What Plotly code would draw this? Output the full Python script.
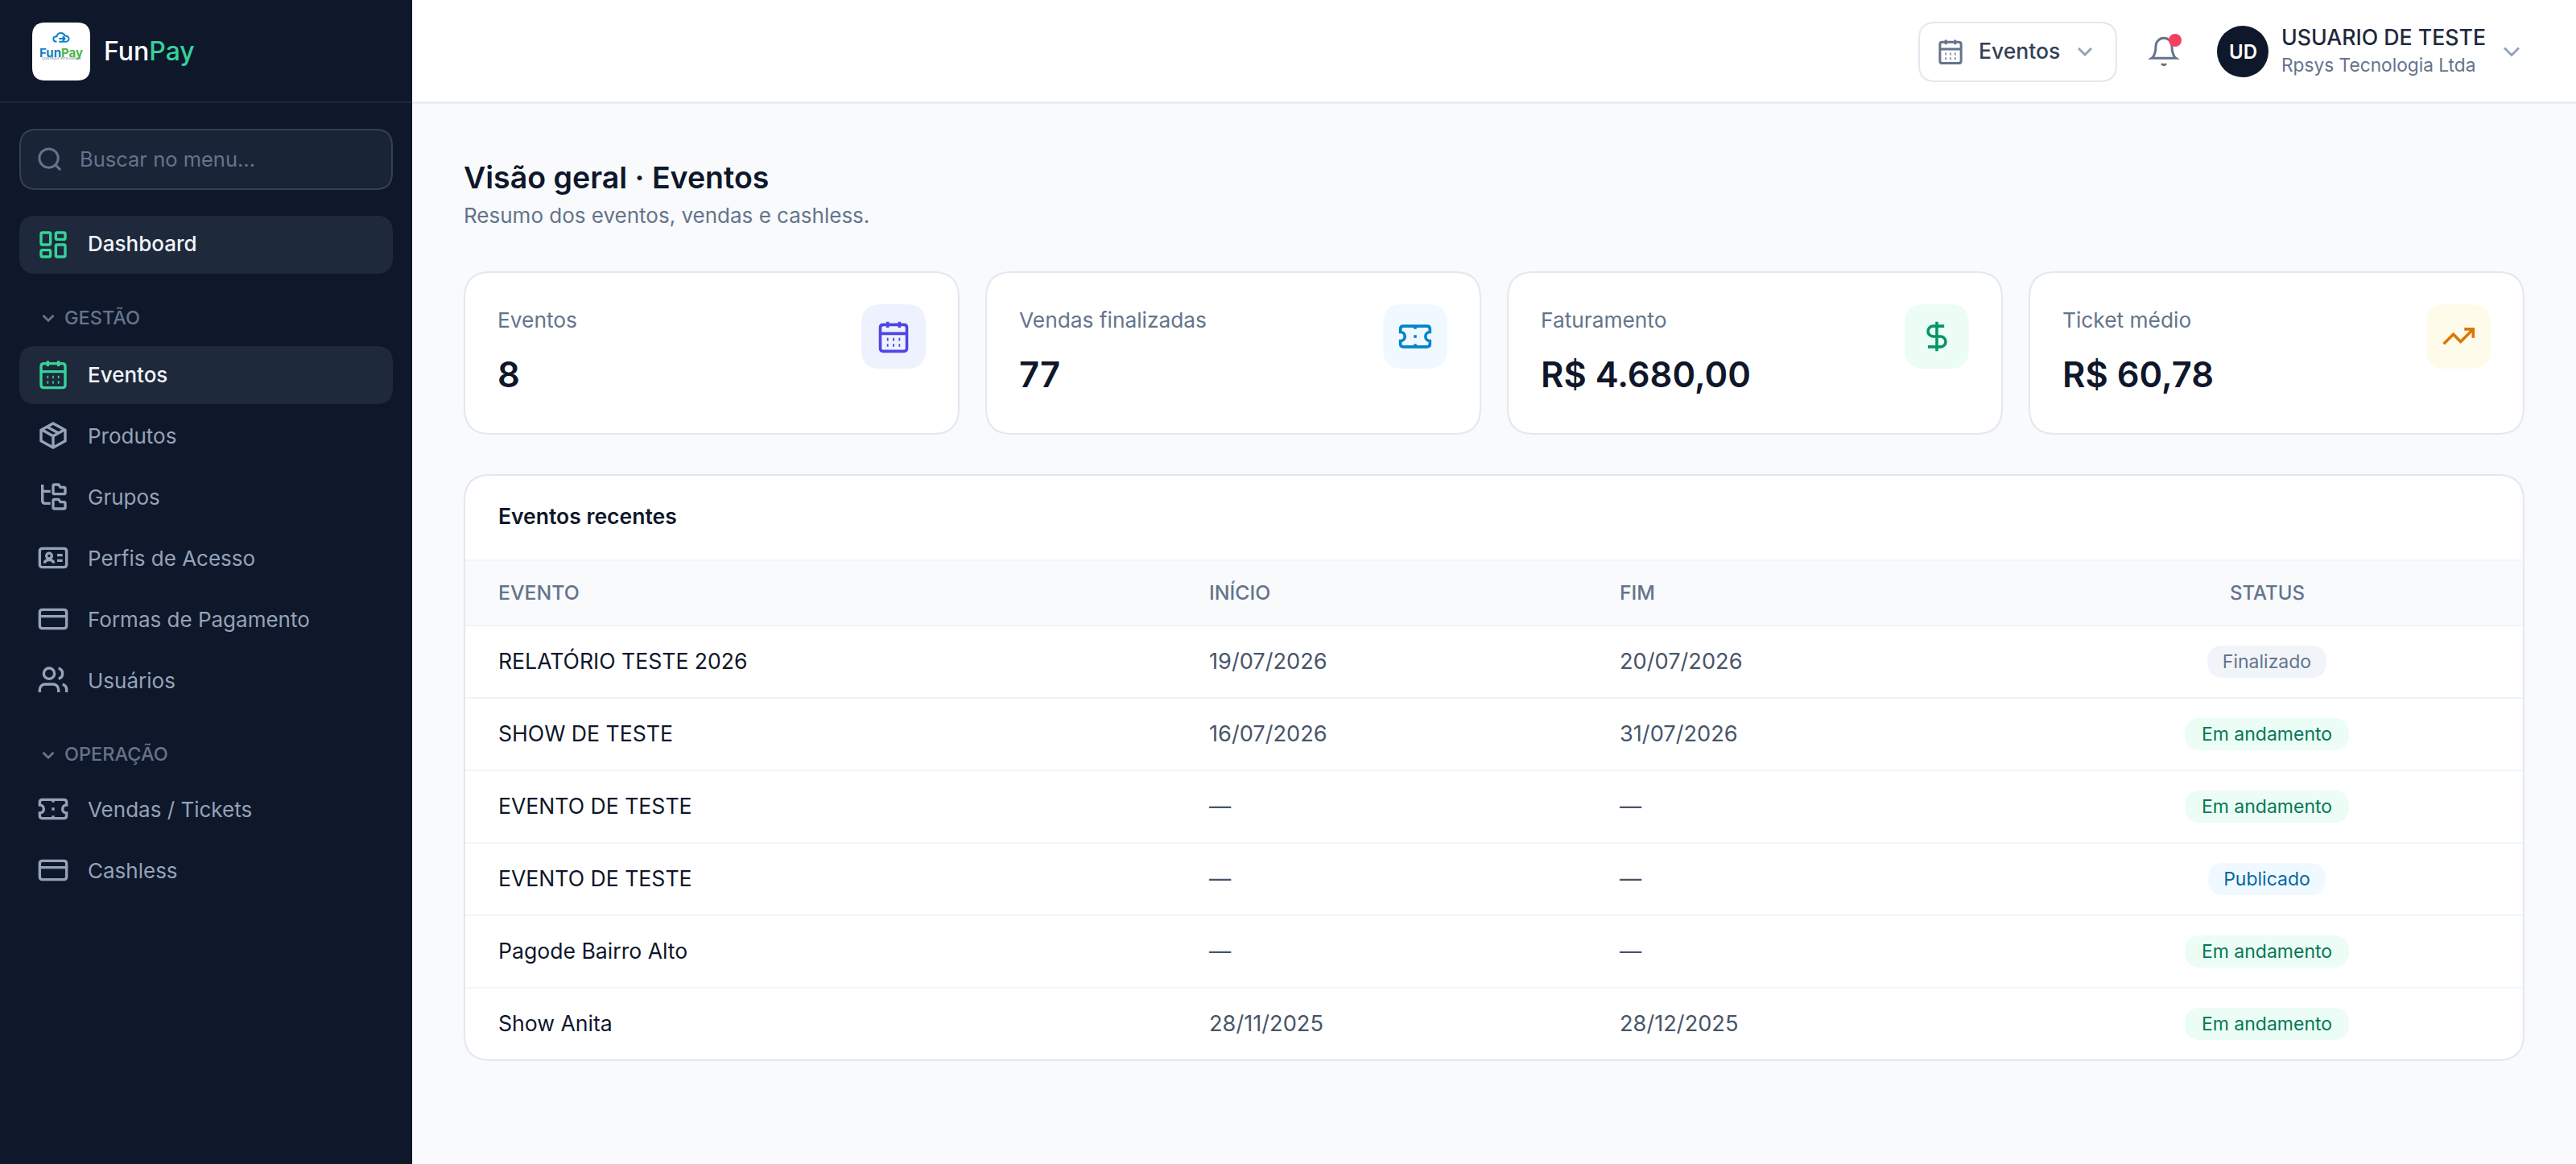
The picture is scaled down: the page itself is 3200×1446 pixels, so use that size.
import plotly.graph_objects as go

FONT = "Inter"

# sidebar
menu_gestao = ["Eventos", "Produtos", "Grupos", "Perfis de Acesso", "Formas de Pagamento", "Usuários"]
menu_operacao = ["Vendas / Tickets", "Cashless"]

# kpi cards
kpi_labels = ["Eventos", "Vendas finalizadas", "Faturamento", "Ticket médio"]
kpi_values = ["8", "77", "R$ 4.680,00", "R$ 60,78"]

# table
table_headers = ["EVENTO", "INÍCIO", "FIM", "STATUS"]
table_events = ["RELATÓRIO TESTE 2026", "SHOW DE TESTE", "EVENTO DE TESTE", "EVENTO DE TESTE", "Pagode Bairro Alto", "Show Anita"]
table_start = ["19/07/2026", "16/07/2026", "—", "—", "—", "28/11/2025"]
table_end = ["20/07/2026", "31/07/2026", "—", "—", "—", "28/12/2025"]
table_status = ["Finalizado", "Em andamento", "Em andamento", "Publicado", "Em andamento", "Em andamento"]


def circ(cx, cy, r):
    k = r * 0.5523
    return (f"M {cx-r} {cy} C {cx-r} {cy-k} {cx-k} {cy-r} {cx} {cy-r} C {cx+k} {cy-r} {cx+r} {cy-k} {cx+r} {cy} "
            f"C {cx+r} {cy+k} {cx+k} {cy+r} {cx} {cy+r} C {cx-k} {cy+r} {cx-r} {cy+k} {cx-r} {cy} Z")


def rr(x, y, w, h, r):
    return (f"M {x+r} {y} L {x+w-r} {y} Q {x+w} {y} {x+w} {y+r} L {x+w} {y+h-r} Q {x+w} {y+h} {x+w-r} {y+h} "
            f"L {x+r} {y+h} Q {x} {y+h} {x} {y+h-r} L {x} {y+r} Q {x} {y} {x+r} {y} Z")


# icons in a 24 unit box
ICON_CALENDAR = (rr(3, 4, 18, 18, 2) + " M 16 2 L 16 6 M 8 2 L 8 6 M 3 10 L 21 10 "
                 "M 7.5 14 L 8.5 14 M 11.5 14 L 12.5 14 M 15.5 14 L 16.5 14 "
                 "M 7.5 18 L 8.5 18 M 11.5 18 L 12.5 18 M 15.5 18 L 16.5 18")
ICON_GRID = " ".join([rr(3, 3, 7, 9, 1), rr(14, 3, 7, 5, 1), rr(14, 12, 7, 9, 1), rr(3, 16, 7, 5, 1)])
ICON_BOX = "M 21 8 L 21 16 L 12 21 L 3 16 L 3 8 L 12 3 Z M 3.3 7.5 L 12 12.5 L 20.7 7.5 M 12 21 L 12 12.5 M 7.5 5.5 L 16.5 10.5"
ICON_TREE = ("M 4 3 L 4 15 Q 4 17 6 17 L 10 17 M 4 8 L 10 8 "
             "M 13 10 L 20 10 Q 21 10 21 9 L 21 6 Q 21 5 20 5 L 17.5 5 L 16 3 L 13 3 Q 12 3 12 4 L 12 9 Q 12 10 13 10 Z "
             "M 13 21 L 20 21 Q 21 21 21 20 L 21 17 Q 21 16 20 16 L 17.5 16 L 16 14 L 13 14 Q 12 14 12 15 L 12 20 Q 12 21 13 21 Z")
ICON_ID = (rr(2, 5, 20, 14, 2) + " " + circ(9, 10.5, 2) +
           " M 5.5 16 Q 6 13.5 9 13.5 Q 12 13.5 12.5 16 M 15 10 L 19 10 M 15 14 L 19 14")
ICON_CARD = rr(2, 5, 20, 14, 2) + " M 2 10 L 22 10"
ICON_USERS = (circ(9, 7, 4) + " M 16 21 L 16 19 C 16 16.8 14.2 15 12 15 L 6 15 C 3.8 15 2 16.8 2 19 L 2 21 "
              "M 16 3.1 C 17.8 3.6 19 5.2 19 7 C 19 8.8 17.8 10.4 16 10.9 M 22 21 L 22 19 C 22 17.2 20.8 15.6 19 15.1")
ICON_TICKET = ("M 2 9 C 3.7 9 5 10.3 5 12 C 5 13.7 3.7 15 2 15 L 2 17 Q 2 19 4 19 L 20 19 Q 22 19 22 17 L 22 15 "
               "C 20.3 15 19 13.7 19 12 C 19 10.3 20.3 9 22 9 L 22 7 Q 22 5 20 5 L 4 5 Q 2 5 2 7 Z "
               "M 12 5 L 12 7 M 12 11 L 12 13 M 12 17 L 12 19")
ICON_SEARCH = circ(11, 11, 8) + " M 21 21 L 16.7 16.7"
ICON_CHEVRON = "M 6 9 L 12 15 L 18 9"
ICON_BELL = ("M 6 8 C 6 4.7 8.7 2 12 2 C 15.3 2 18 4.7 18 8 C 18 15 21 17 21 17 L 3 17 C 3 17 6 15 6 8 Z "
             "M 10.3 21 C 10.7 21.6 11.3 22 12 22 C 12.7 22 13.3 21.6 13.7 21")
ICON_DOLLAR = ("M 12 2 L 12 22 M 17 5 L 9.5 5 C 7.6 5 6 6.6 6 8.5 C 6 10.4 7.6 12 9.5 12 L 14.5 12 "
               "C 16.4 12 18 13.6 18 15.5 C 18 17.4 16.4 19 14.5 19 L 6 19")
ICON_TREND = "M 22 7 L 13.5 15.5 L 8.5 10.5 L 2 17 M 16 7 L 22 7 L 22 13"
ICON_CLOUD = "M 6 15 C 0 15 0 8 6 8 C 7 2 15 2 17 7 C 24 7 24 15 18 15 L 9 15 M 9 11 L 17 11 M 14 8 L 17 11 L 14 14"

shapes = []
annotations = []


def box(x0, y0, x1, y1, fill, r=0, line=None, lw=0):
    shapes.append(dict(type="path", path=rr(x0, y0, x1 - x0, y1 - y0, r), fillcolor=fill, layer="below",
                       line=dict(color=line or fill, width=lw)))


def rule(x0, y0, x1, y1, color, lw=2):
    shapes.append(dict(type="line", x0=x0, y0=y0, x1=x1, y1=y1, layer="below", line=dict(color=color, width=lw)))


def icon(path, cx, cy, size, color, lw=3):
    s = size / 24
    out = []
    nums = 0
    for tok in path.split():
        if tok.isalpha():
            out.append(tok)
            continue
        if nums % 2 == 0:
            out.append(f"{cx + (float(tok) - 12) * s:.2f}")
        else:
            out.append(f"{cy + (float(tok) - 12) * s:.2f}")
        nums += 1
    shapes.append(dict(type="path", path=" ".join(out), layer="below", line=dict(color=color, width=lw)))


def label(x, y, text, size, color, weight=400, anchor="left"):
    annotations.append(dict(x=x, y=y, text=text, showarrow=False, xanchor=anchor, yanchor="middle",
                            borderwidth=0, borderpad=0,
                            font=dict(family=FONT, size=size, color=color, weight=weight)))


# page background, sidebar, top bar
box(512, 0, 3200, 1446, "#f8fafc")
box(512, 0, 3200, 127, "#ffffff")
rule(512, 127.5, 3200, 127.5, "#e2e8f0")
box(0, 0, 512, 1446, "#0f172a")
rule(0, 127, 512, 127, "#1e293b")

# logo
box(40, 28, 112, 100, "#ffffff", r=16)
icon(ICON_CLOUD, 76, 49, 22, "#0e7fc4", lw=2)
label(76, 65, '<span style="color:#0e7fc4">Fun</span><span style="color:#4cb648">Pay</span>', 15, "#0e7fc4", 700, "center")
label(76, 72, "CONTROLE INTELIGENTE", 4, "#64748b", 400, "center")
label(129, 63, 'Fun<span style="color:#34d399">Pay</span>', 32, "#ffffff", 500)

# search
box(25, 161, 487, 235, "#1a2437", r=20, line="#334155", lw=2)
icon(ICON_SEARCH, 62, 198, 35, "#64748b")
label(99, 197, "Buscar no menu...", 25.5, "#64748b")

# dashboard item
box(24, 268, 488, 340, "#1e293b", r=20)
icon(ICON_GRID, 66, 304, 40, "#34d399", lw=3.4)
label(109, 302, "Dashboard", 26, "#f1f5f9", 500)

# menu sections
GESTAO_Y = [465, 541, 617, 693, 769, 845]
OPERACAO_Y = [1005, 1081]
GESTAO_ICONS = [ICON_CALENDAR, ICON_BOX, ICON_TREE, ICON_ID, ICON_CARD, ICON_USERS]
OPERACAO_ICONS = [ICON_TICKET, ICON_CARD]

icon(ICON_CHEVRON, 60, 395, 26, "#64748b")
label(80, 394, "GESTÃO", 23.5, "#64748b", 500)
icon(ICON_CHEVRON, 60, 938, 26, "#64748b")
label(80, 936, "OPERAÇÃO", 23.5, "#64748b", 500)

box(24, 430, 488, 502, "#1e293b", r=20)
for i, (name, y, ic) in enumerate(zip(menu_gestao, GESTAO_Y, GESTAO_ICONS)):
    on = i == 0
    icon(ic, 66, y, 40, "#34d399" if on else "#94a3b8", lw=3.4)
    label(109, y, name, 26, "#f1f5f9" if on else "#94a3b8", 500 if on else 400)
for name, y, ic in zip(menu_operacao, OPERACAO_Y, OPERACAO_ICONS):
    icon(ic, 66, y, 40, "#94a3b8", lw=3.4)
    label(109, y, name, 26, "#94a3b8")

# top right
box(2384, 28, 2629, 101, "#ffffff", r=20, line="#e2e8f0", lw=2)
icon(ICON_CALENDAR, 2423, 64, 35, "#64748b")
label(2458, 63, "Eventos", 26.5, "#334155", 500)
icon(ICON_CHEVRON, 2590, 64, 32, "#94a3b8")
icon(ICON_BELL, 2688, 64, 40, "#64748b")
shapes.append(dict(type="circle", x0=2694, y0=42, x1=2710, y1=58, fillcolor="#f43f5e", layer="below", line=dict(width=0)))
shapes.append(dict(type="circle", x0=2754, y0=32, x1=2818, y1=96, fillcolor="#0f172a", layer="below", line=dict(width=0)))
label(2786, 64, "UD", 24, "#ffffff", 600, "center")
label(2834, 46, "USUARIO DE TESTE", 26.7, "#1e293b", 500)
label(2834, 80, "Rpsys Tecnologia Ltda", 22.7, "#64748b")
icon(ICON_CHEVRON, 3120, 64, 36, "#94a3b8")

# heading
label(576, 220, "Visão geral · Eventos", 37.5, "#0f172a", 600)
label(576, 267, "Resumo dos eventos, vendas e cashless.", 26, "#64748b")

# kpi cards
CARD_X = [577, 1225, 1873, 2521]
CARD_W = 614
CARD_ICONS = [ICON_CALENDAR, ICON_TICKET, ICON_DOLLAR, ICON_TREND]
CARD_ICON_BG = ["#eef2ff", "#f0f9ff", "#ecfdf5", "#fffbeb"]
CARD_ICON_FG = ["#4f46e5", "#0284c7", "#059669", "#d97706"]
for i in range(4):
    x = CARD_X[i]
    box(x, 338, x + CARD_W, 539, "#ffffff", r=32, line="#e2e8f0", lw=2)
    box(x + 493, 378, x + 573, 458, CARD_ICON_BG[i], r=24)
    icon(CARD_ICONS[i], x + 533, 418, 44, CARD_ICON_FG[i], lw=3.6)
    label(x + 41, 397, kpi_labels[i], 26.3, "#64748b")
    label(x + 41, 465, kpi_values[i], 43.5, "#0f172a", 600)

# table card
box(577, 590, 3135, 1317, "#ffffff", r=32, line="#e2e8f0", lw=2)
label(619, 641, "Eventos recentes", 26.5, "#0f172a", 600)
box(578, 696, 3134, 777, "#f8fafc")
rule(578, 696, 3134, 696, "#f1f5f9")

ROW_Y = [824, 914, 1004, 1094, 1184, 1274]
COL_X = [619, 1502, 2012, 2816]
for i, head in enumerate(table_headers):
    label(COL_X[i], 736, head, 24.8 if i < 3 else 24, "#64748b", 500, "center" if i == 3 else "left")
for y in ROW_Y:
    rule(578, y - 47, 3134, y - 47, "#f1f5f9")

STATUS_FILL = {"Finalizado": "#f1f5f9", "Em andamento": "#ecfdf5", "Publicado": "#f0f9ff"}
STATUS_TEXT = {"Finalizado": "#64748b", "Em andamento": "#047857", "Publicado": "#0369a1"}
STATUS_W = {"Finalizado": 148, "Em andamento": 204, "Publicado": 146}
for y, status in zip(ROW_Y, table_status):
    w = STATUS_W[status]
    box(COL_X[3] - w / 2, y - 22, COL_X[3] + w / 2, y + 18, STATUS_FILL[status], r=20)

fig = go.Figure()
for col, vals, color, size in [(0, table_events, "#0f172a", 26.6), (1, table_start, "#475569", 27.2), (2, table_end, "#475569", 27.2)]:
    fig.add_trace(go.Scatter(x=[COL_X[col]] * len(vals), y=ROW_Y, text=vals, mode="text",
                             textposition="middle right", hoverinfo="skip", showlegend=False,
                             textfont=dict(family=FONT, size=size, color=color)))
fig.add_trace(go.Scatter(x=[COL_X[3]] * len(table_status), y=ROW_Y, text=table_status, mode="text",
                         textposition="middle center", hoverinfo="skip", showlegend=False,
                         textfont=dict(family=FONT, size=23, color=[STATUS_TEXT[s] for s in table_status])))

fig.update_layout(
    width=3200, height=1446,
    margin=dict(l=0, r=0, t=0, b=0),
    paper_bgcolor="#f8fafc", plot_bgcolor="#f8fafc",
    xaxis=dict(range=[0, 3200], visible=False, fixedrange=True),
    yaxis=dict(range=[1446, 0], visible=False, fixedrange=True),
    shapes=shapes, annotations=annotations,
)
fig.write_html("out.html", config={"displayModeBar": False},
               post_script="document.body.style.margin='0';document.body.style.overflow='hidden';")
